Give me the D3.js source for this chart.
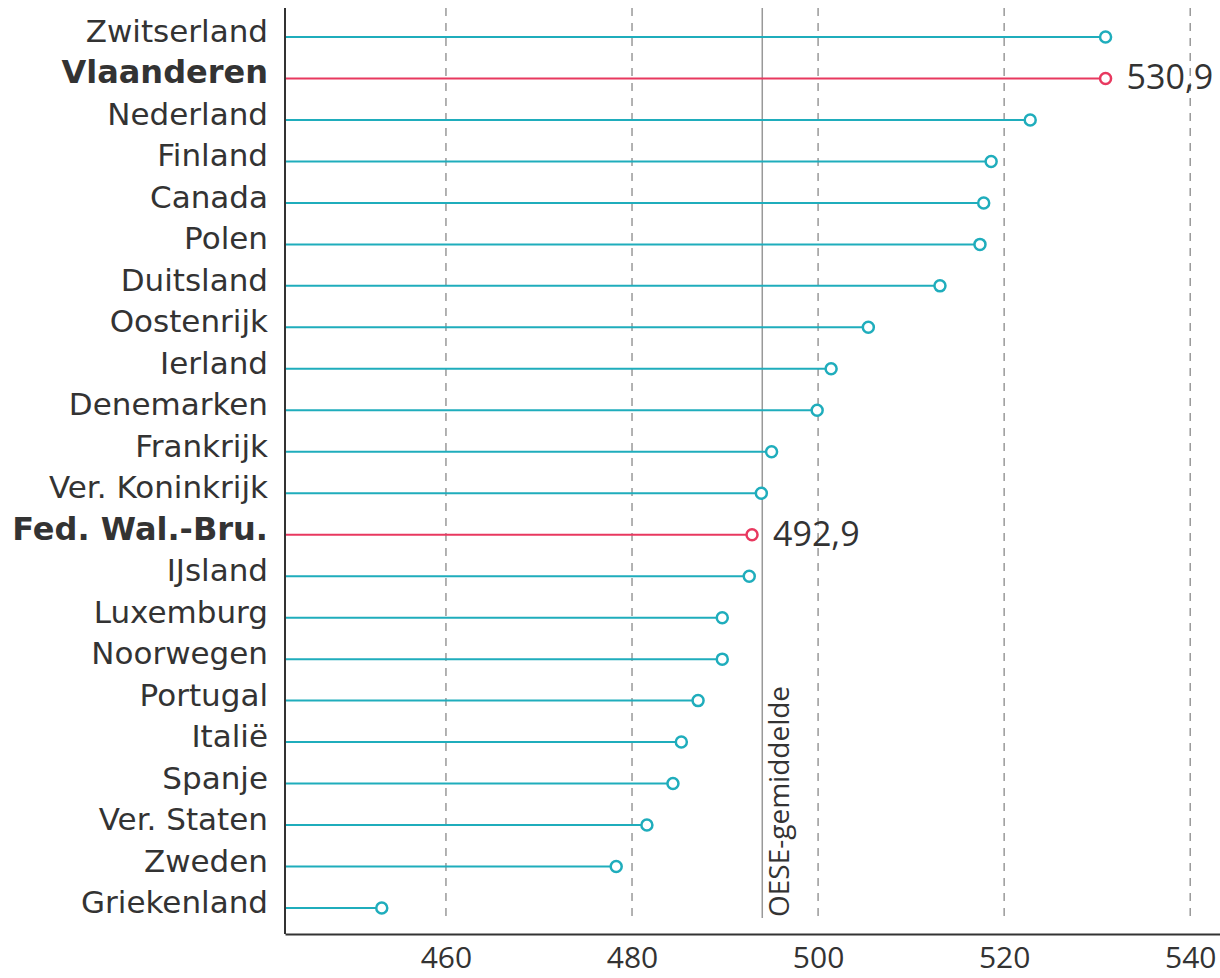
<!DOCTYPE html>
<html>
<head>
<meta charset="UTF-8">
<script src="https://cdn.jsdelivr.net/npm/d3@7/dist/d3.min.js"></script>
<style>
body{
    margin:0;
    background-color:#fff;
}
</style>
</head>
<body>
<script>

var countries = ["Zwitserland","Vlaanderen","Nederland","Finland","Canada","Polen","Duitsland","Oostenrijk","Ierland","Denemarken","Frankrijk","Ver. Koninkrijk","Fed. Wal.-Bru.","IJsland","Luxemburg","Noorwegen","Portugal","Italië","Spanje","Ver. Staten","Zweden","Griekenland"];
var scores = [530.9,530.9,522.8,518.6,517.8,517.4,513.1,505.4,501.4,499.9,495.0,493.9,492.9,492.6,489.7,489.7,487.1,485.3,484.4,481.6,478.3,453.1];
var highlight = ["Vlaanderen","Fed. Wal.-Bru."];
var tickValues = [460,480,500,520,540];
var oecdAverage = 494.0;
var oecdLabel = "OESE-gemiddelde";

var data = countries.map(function(c,i){ return {country:c, score:scores[i]}; });

var width = 1220,
    height = 978,
    margin = {top: 8, right: 0, bottom: 44, left: 285};

var teal = "#1fadbc",
    red = "#e8385f",
    ink = "#333";

function isHi(d){ return highlight.indexOf(d.country) >= 0; }

var x = d3.scaleLinear().domain([442.7, 543.2]).range([margin.left, width - margin.right]);
var y = d3.scalePoint().domain(countries).range([37, 908]);

var svg = d3.select("body").append("svg")
    .attr("width", width)
    .attr("height", height);

// dashed gridlines
svg.append("g").selectAll("line")
    .data(tickValues)
    .enter().append("line")
    .attr("x1", function(d){ return x(d); })
    .attr("x2", function(d){ return x(d); })
    .attr("y1", margin.top)
    .attr("y2", 918)
    .attr("stroke", "#999")
    .attr("stroke-width", 1.5)
    .attr("stroke-dasharray", "8,7");

// OECD average
svg.append("line")
    .attr("x1", x(oecdAverage))
    .attr("x2", x(oecdAverage))
    .attr("y1", margin.top)
    .attr("y2", 918)
    .attr("stroke", "#999")
    .attr("stroke-width", 1.5);

svg.append("text")
    .attr("transform", "translate(" + (x(oecdAverage) + 27) + ",917) rotate(-90)")
    .attr("font-family", "'Open Sans', sans-serif")
    .attr("font-size", 28)
    .attr("fill", ink)
    .text(oecdLabel);

// stems
svg.append("g").selectAll("line")
    .data(data)
    .enter().append("line")
    .attr("x1", margin.left)
    .attr("x2", function(d){ return x(d.score); })
    .attr("y1", function(d){ return y(d.country); })
    .attr("y2", function(d){ return y(d.country); })
    .attr("stroke", function(d){ return isHi(d) ? red : teal; })
    .attr("stroke-width", 2);

// dots
svg.append("g").selectAll("circle")
    .data(data)
    .enter().append("circle")
    .attr("cx", function(d){ return x(d.score); })
    .attr("cy", function(d){ return y(d.country); })
    .attr("r", 5.5)
    .attr("fill", "#fff")
    .attr("stroke", function(d){ return isHi(d) ? red : teal; })
    .attr("stroke-width", 2.5);

// value labels for highlighted rows
svg.append("g").selectAll("text")
    .data(data.filter(isHi))
    .enter().append("text")
    .attr("x", function(d){ return x(d.score) + 21; })
    .attr("y", function(d){ return y(d.country) + 11; })
    .attr("font-family", "'Open Sans', sans-serif")
    .attr("font-size", 34)
    .attr("fill", ink)
    .text(function(d){ return d.score.toFixed(1).replace(".", ","); });

// category labels
svg.append("g").selectAll("text")
    .data(data)
    .enter().append("text")
    .attr("x", margin.left - 17)
    .attr("y", function(d){ return y(d.country) + 5; })
    .attr("text-anchor", "end")
    .attr("font-family", "'DejaVu Sans', Verdana, sans-serif")
    .attr("font-size", function(d){ return isHi(d) ? 32 : 31; })
    .attr("font-weight", function(d){ return isHi(d) ? "bold" : "normal"; })
    .attr("fill", ink)
    .text(function(d){ return d.country; });

// axes
var xAxis = d3.axisBottom(x).tickValues(tickValues).tickSize(0).tickPadding(13);

var gX = svg.append("g")
    .attr("transform", "translate(0," + (height - margin.bottom) + ")")
    .call(xAxis);
gX.select(".domain").attr("stroke", ink).attr("stroke-width", 2);
gX.selectAll("text")
    .attr("font-family", "'Open Sans', sans-serif")
    .attr("font-size", 30)
    .attr("fill", ink);

svg.append("line")
    .attr("x1", margin.left)
    .attr("x2", margin.left)
    .attr("y1", margin.top)
    .attr("y2", height - margin.bottom)
    .attr("stroke", ink)
    .attr("stroke-width", 2);

</script>
</body>
</html>
